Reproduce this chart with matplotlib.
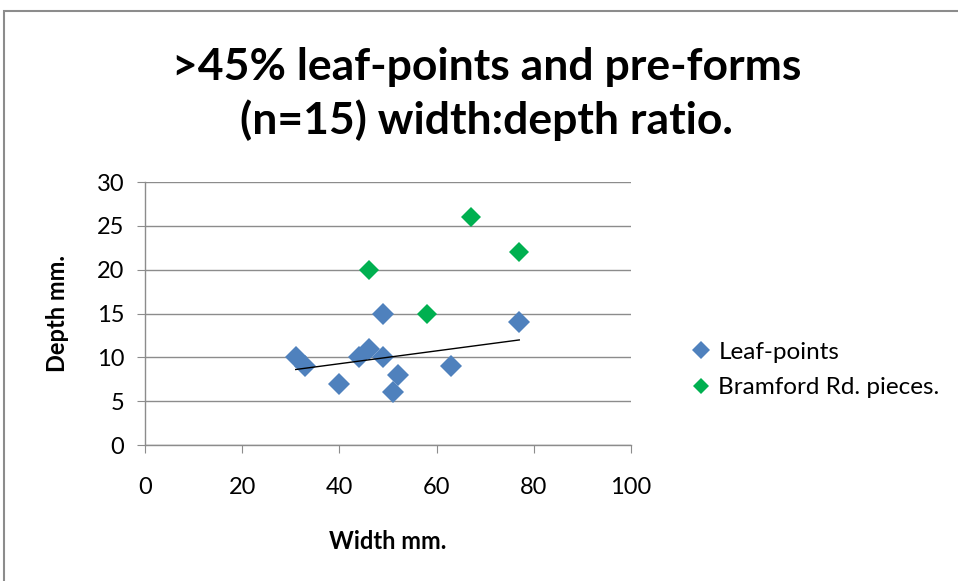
import numpy as np
import matplotlib.pyplot as plt
from matplotlib.patches import Rectangle

# leaf-points (width, depth) in mm
leaf_width = [31, 33, 40, 44, 46, 49, 49, 52, 51, 63, 77]
leaf_depth = [10, 9, 7, 10, 11, 15, 10, 8, 6, 9, 14]

# Bramford Rd. pieces
bram_width = [46, 58, 67, 77]
bram_depth = [20, 15, 26, 22]

x_ticks = [0, 20, 40, 60, 80, 100]
y_ticks = [0, 5, 10, 15, 20, 25, 30]

plt.rcParams['font.family'] = ['Lato', 'DejaVu Sans']

fig = plt.figure(figsize=(9.58, 5.81), dpi=100)
ax = fig.add_axes([0.1514, 0.234, 0.5073, 0.4527])

# chart border
fig.patches.append(Rectangle((4 / 958, -0.02), 1.0, 1.0 - 11 / 581 + 0.02,
                             transform=fig.transFigure, fill=False,
                             edgecolor='#8c8c8c', linewidth=1.5))

ax.plot(leaf_width, leaf_depth, 'D', ms=11, color='#4F81BD', mew=0,
        label='Leaf-points', zorder=3)
ax.plot(bram_width, bram_depth, 'D', ms=10, color='#00B050', mew=0,
        label='Bramford Rd. pieces.', zorder=3)

# linear trendline for leaf-points
k, b = np.polyfit(leaf_width, leaf_depth, 1)
xs = np.array([min(leaf_width), max(leaf_width)])
ax.plot(xs, k * xs + b, color='black', linewidth=1, zorder=4)

ax.set_xlim(0, 100)
ax.set_ylim(0, 30)
ax.set_xticks(x_ticks)
ax.set_yticks(y_ticks)
ax.tick_params(axis='both', labelsize=17, direction='out', color='#8c8c8c',
               length=6)
ax.tick_params(axis='x', pad=17)
ax.tick_params(axis='y', pad=9)
ax.grid(axis='y', color='#8c8c8c', linewidth=1)
ax.set_axisbelow(True)
for s in ['top', 'right']:
    ax.spines[s].set_visible(False)
for s in ['left', 'bottom']:
    ax.spines[s].set_color('#8c8c8c')
    ax.spines[s].set_linewidth(1)

ax.set_xlabel('Width mm.', fontsize=17, fontweight='bold', labelpad=23)
ax.set_ylabel('Depth mm.', fontsize=17, fontweight='bold', labelpad=20)

fig.text(0.508, 0.838, '>45% leaf-points and pre-forms\n(n=15) width:depth ratio.',
         ha='center', va='center', fontsize=32, fontweight='bold',
         linespacing=1.35)

fig.legend(loc='center left', bbox_to_anchor=(0.717, 0.363), frameon=False,
           fontsize=17.5, labelspacing=0.6, handletextpad=0.1,
           handlelength=1.2, markerscale=0.8, borderpad=0, borderaxespad=0)

fig.savefig('out.png', dpi=100)
